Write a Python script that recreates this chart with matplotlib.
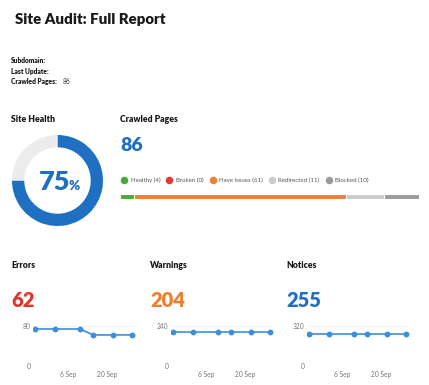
import matplotlib
matplotlib.use("Agg")
import matplotlib.pyplot as plt
import matplotlib.dates as mdates
from matplotlib.lines import Line2D
import datetime as dt

plt.rcParams['font.family'] = ['Lato', 'DejaVu Sans']

# data
health_pct = 75
crawled_total = 86
page_cats = ['Healthy', 'Broken', 'Have issues', 'Redirected', 'Blocked']
page_counts = [4, 0, 61, 11, 10]
page_colors = ['#4aa83a', '#e03a32', '#e8823a', '#cccccc', '#9b9b9b']

dates = [dt.date(2019, 8, 25), dt.date(2019, 9, 1), dt.date(2019, 9, 10),
         dt.date(2019, 9, 15), dt.date(2019, 9, 22), dt.date(2019, 9, 29)]
errors = [74, 74, 74, 62, 62, 62]
warnings = [204, 204, 204, 204, 204, 204]
notices = [255, 255, 255, 255, 255, 255]
date_ticks = [dt.date(2019, 9, 6), dt.date(2019, 9, 20)]
date_labels = ['6 Sep', '20 Sep']

W, H = 429, 385
fig = plt.figure(figsize=(W / 100, H / 100), dpi=100)

def px(x, y):
    return x / W, 1 - y / H

def ftext(x, y, s, **kw):
    fx, fy = px(x, y)
    fig.text(fx, fy, s, va='baseline', **kw)

blue = '#1f6fc2'
dark = '#1a1a1a'
heavy = 'heavy'

ftext(15, 24, 'Site Audit: Full Report', fontsize=10.8, fontweight=heavy, color=dark)
ftext(11, 63, 'Subdomain:', fontsize=4.8, fontweight=heavy, color=dark)
ftext(11, 74, 'Last Update:', fontsize=4.8, fontweight=heavy, color=dark)
ftext(11, 84, 'Crawled Pages:', fontsize=4.8, fontweight=heavy, color=dark)
ftext(63, 84, str(crawled_total), fontsize=4.8, color='#333333')

ftext(11, 122, 'Site Health', fontsize=6.2, fontweight=heavy, color=dark)
ftext(120, 122, 'Crawled Pages', fontsize=6.2, fontweight=heavy, color=dark)
ftext(120, 151, str(crawled_total), fontsize=14, fontweight=heavy, color=blue)

# donut
ax_d = fig.add_axes([12 / W, (H - 226) / H, 91 / W, 91 / H])
ax_d.pie([health_pct, 100 - health_pct], colors=[blue, '#ececec'], startangle=90,
         counterclock=False, radius=1, wedgeprops=dict(width=0.27, linewidth=0))
ax_d.set_aspect('equal')
ax_d.set_xlim(-1, 1)
ax_d.set_ylim(-1, 1)
ax_d.axis('off')
ftext(38.5, 190, str(health_pct), fontsize=19.5, fontweight=heavy, color=blue)
ftext(68.5, 190, '%', fontsize=9.5, fontweight=heavy, color=blue)

# stacked bar
ax_b = fig.add_axes([120 / W, (H - 198.5) / H, 299 / W, 5 / H])
left = 0
for c, col in zip(page_counts, page_colors):
    if c > 0:
        ax_b.barh(0, c, left=left, color=col, height=1, edgecolor='white', linewidth=0.8)
    left += c
ax_b.set_xlim(0, sum(page_counts))
ax_b.set_ylim(-0.5, 0.5)
ax_b.axis('off')

handles = [Line2D([], [], marker='o', linestyle='none', markersize=4.4,
                  markerfacecolor=col, markeredgecolor=col) for col in page_colors]
labels = [f'{n} ({c})' for n, c in zip(page_cats, page_counts)]
fig.legend(handles, labels, loc='center left', bbox_to_anchor=px(118, 180), ncol=5,
           frameon=False, fontsize=4.4, handletextpad=0.05, columnspacing=0.5,
           labelcolor='#555555', borderaxespad=0, borderpad=0)

# line charts
panels = [('Errors', errors, 80, '#e0352c', 11, 33),
          ('Warnings', warnings, 240, '#ee7d2f', 150, 171),
          ('Notices', notices, 320, '#1f6fc2', 286, 307)]
for title, vals, top, col, tx, axl in panels:
    ftext(tx, 268, title, fontsize=6.2, fontweight=heavy, color=dark)
    ftext(tx, 307, str(vals[-1]), fontsize=14.5, fontweight=heavy, color=col)
    ax = fig.add_axes([axl / W, (H - 365.7) / H, 102 / W, 39.7 / H])
    ax.plot(dates, vals, color='#3d8fd8', linewidth=1.2, marker='o', markersize=3.2)
    ax.set_ylim(0, top)
    ax.set_xlim(mdates.date2num(dates[0]) - 0.8, mdates.date2num(dates[-1]) + 1.0)
    ax.set_yticks([0, top])
    ax.set_xticks(date_ticks)
    ax.set_xticklabels(date_labels)
    for s in ax.spines.values():
        s.set_visible(False)
    ax.axhline(top, color='#f3f1e6', linewidth=0.6, zorder=0)
    ax.axhline(0, color='#e4e4e4', linewidth=0.6, zorder=0)
    ax.tick_params(length=0, labelsize=4.8, labelcolor='#777777', pad=2)
    ax.tick_params(axis='x', pad=4)

fig.savefig('out.png', dpi=100, facecolor='white')
